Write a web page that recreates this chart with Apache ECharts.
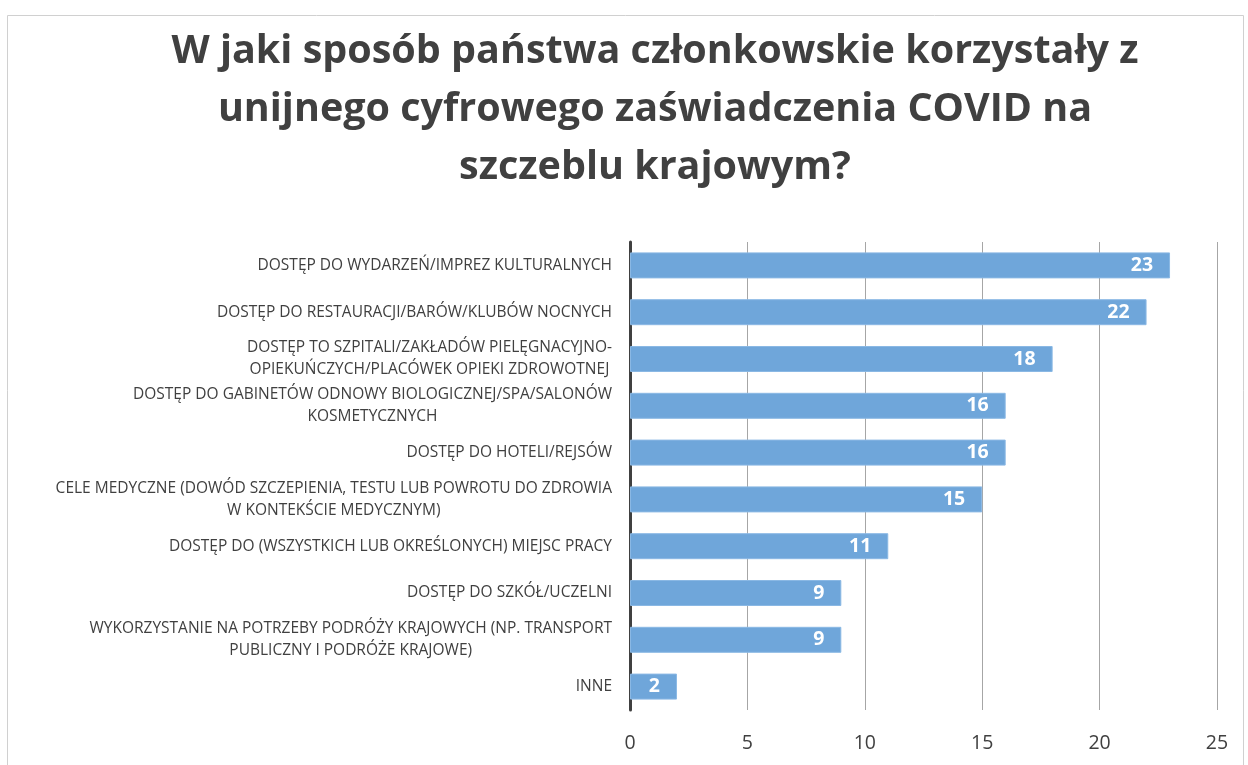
<!DOCTYPE html>
<html>
<head>
<meta charset="utf-8">
<script src="https://cdn.jsdelivr.net/npm/echarts@6/dist/echarts.min.js"></script>
<style>
html,body{margin:0;padding:0;background:#fff;}
#main{width:1248px;height:765px;}
</style>
</head>
<body>
<div id="main"></div>
<script>
const titleText = 'W jaki sposób państwa członkowskie korzystały z\nunijnego cyfrowego zaświadczenia COVID na\nszczeblu krajowym?';
const categories = [
  'DOSTĘP DO WYDARZEŃ/IMPREZ KULTURALNYCH',
  'DOSTĘP DO RESTAURACJI/BARÓW/KLUBÓW NOCNYCH',
  'DOSTĘP TO SZPITALI/ZAKŁADÓW PIELĘGNACYJNO-\nOPIEKUŃCZYCH/PLACÓWEK OPIEKI ZDROWOTNEJ',
  'DOSTĘP DO GABINETÓW ODNOWY BIOLOGICZNEJ/SPA/SALONÓW\nKOSMETYCZNYCH',
  'DOSTĘP DO HOTELI/REJSÓW',
  'CELE MEDYCZNE (DOWÓD SZCZEPIENIA, TESTU LUB POWROTU DO ZDROWIA\nW KONTEKŚCIE MEDYCZNYM)',
  'DOSTĘP DO (WSZYSTKICH LUB OKREŚLONYCH) MIEJSC PRACY',
  'DOSTĘP DO SZKÓŁ/UCZELNI',
  'WYKORZYSTANIE NA POTRZEBY PODRÓŻY KRAJOWYCH (NP. TRANSPORT\nPUBLICZNY I PODRÓŻE KRAJOWE)',
  'INNE'
];
const values = [23, 22, 18, 16, 16, 15, 11, 9, 9, 2];
const xMin = 0, xMax = 25, xInterval = 5;

const chart = echarts.init(document.getElementById('main'), null, {renderer: 'canvas'});
const font = '"Open Sans", sans-serif';
chart.setOption({
  backgroundColor: '#ffffff',
  animation: false,
  graphic: [{
    type: 'rect', left: 5, top: 13, silent: true,
    shape: {width: 1236, height: 760},
    style: {fill: 'none', stroke: '#d0d0d0', lineWidth: 1}
  }],
  title: {
    text: titleText,
    left: 650, top: 18, textAlign: 'center',
    textStyle: {fontFamily: font, fontWeight: 'bold', fontSize: 39.5, lineHeight: 58, color: '#404040'}
  },
  grid: {left: 630, right: 31, top: 242, bottom: 55, containLabel: false},
  xAxis: {
    type: 'value', min: xMin, max: xMax, interval: xInterval,
    axisLine: {show: false}, axisTick: {show: false},
    splitLine: {show: true, lineStyle: {color: '#a6a6a6', width: 1}},
    axisLabel: {fontFamily: font, fontSize: 19.5, color: '#404040', margin: 23}
  },
  yAxis: {
    type: 'category', data: categories, inverse: true,
    axisLine: {show: true, lineStyle: {color: '#404040', width: 3}},
    axisTick: {show: false},
    axisLabel: {
      margin: 18, color: '#404040', fontFamily: font, fontSize: 15.5, lineHeight: 22,
      formatter: function (v) { return v.split('\n').map(s => '{c|' + s + '}').join('\n'); },
      rich: {c: {align: 'center', fontFamily: font, fontSize: 15.5, lineHeight: 22, color: '#404040'}}
    }
  },
  series: [{
    type: 'bar', data: values, barWidth: 26,
    itemStyle: {color: '#6fa6da', borderColor: '#8ab8e4', borderWidth: 1},
    label: {
      show: true, position: 'insideRight', distance: 17,
      color: '#ffffff', fontWeight: 'bold', fontSize: 19.5, fontFamily: font
    }
  }]
});
</script>
</body>
</html>
